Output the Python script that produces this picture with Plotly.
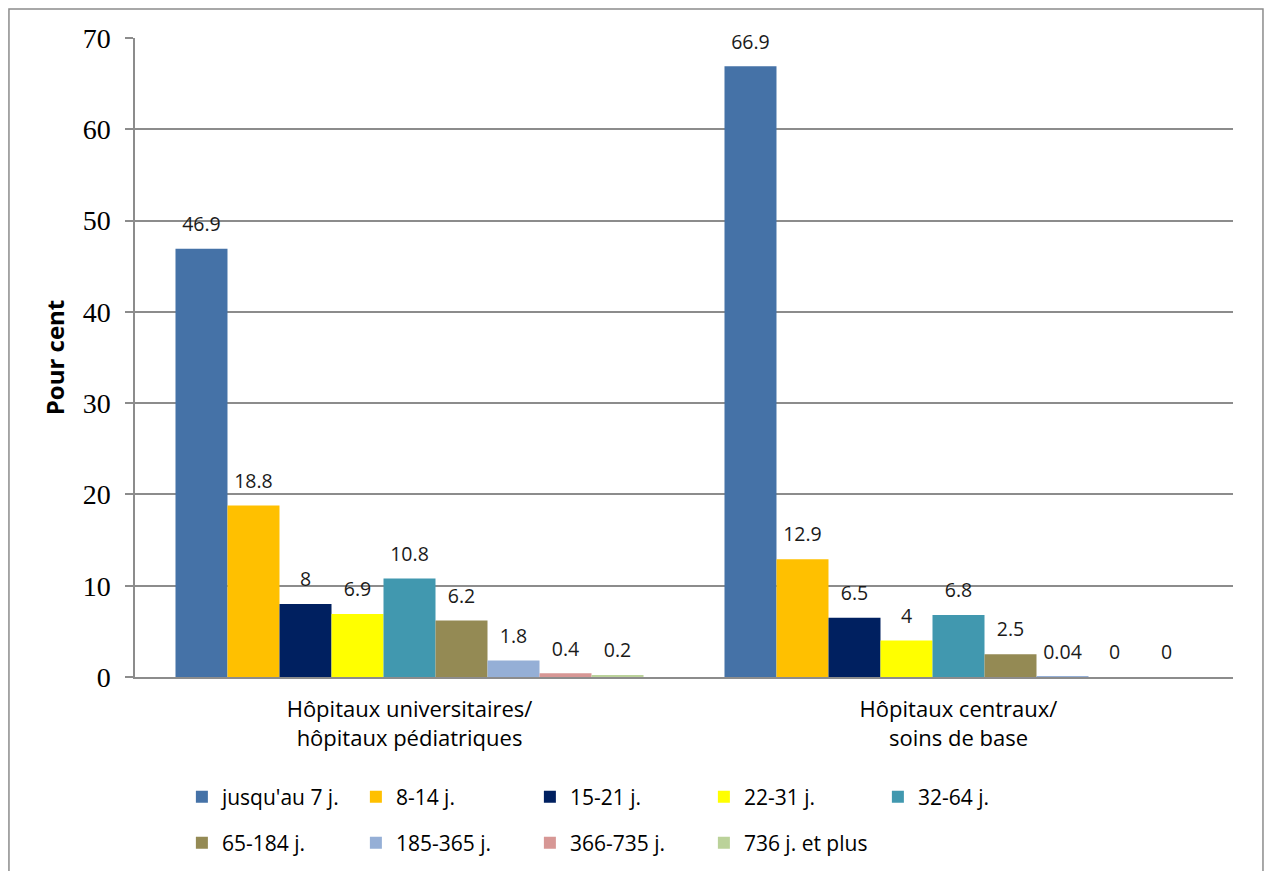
import plotly.graph_objects as go

categories = ["Hôpitaux universitaires/<br>hôpitaux pédiatriques", "Hôpitaux centraux/<br>soins de base"]
series_names = ["jusqu'au 7 j.", "8-14 j.", "15-21 j.", "22-31 j.", "32-64 j.",
                "65-184 j.", "185-365 j.", "366-735 j.", "736 j. et plus"]
group1_values = [46.9, 18.8, 8, 6.9, 10.8, 6.2, 1.8, 0.4, 0.2]
group2_values = [66.9, 12.9, 6.5, 4, 6.8, 2.5, 0.04, 0, 0]
colors = ["#4572A7", "#FFC000", "#002060", "#FFFF00", "#4198AF",
          "#948A54", "#95AFD6", "#D79795", "#BBD29A"]
y_ticks = [0, 10, 20, 30, 40, 50, 60, 70]

def fmt(v):
    return ("%g" % v)

fig = go.Figure()
for i, name in enumerate(series_names):
    vals = [group1_values[i], group2_values[i]]
    fig.add_trace(go.Bar(
        x=categories, y=vals, name=name,
        marker=dict(color=colors[i], line=dict(width=0)),
        legend="legend" if i < 5 else "legend2",
        hoverinfo="skip",
    ))
for i, name in enumerate(series_names):
    vals = [group1_values[i], group2_values[i]]
    fig.add_trace(go.Scatter(
        x=categories, y=vals, mode="markers+text",
        marker=dict(size=19, opacity=0),
        text=[fmt(v) for v in vals], textposition="top center",
        textfont=dict(family="Open Sans", size=19.5, color="#1a1a1a"),
        showlegend=False, hoverinfo="skip", cliponaxis=False,
    ))

fig.update_layout(
    width=1265, height=871,
    margin=dict(l=135, r=32, t=38, b=194, autoexpand=False),
    paper_bgcolor="white", plot_bgcolor="white",
    barmode="group", bargap=0.1475, bargroupgap=0,
    scattermode="group", scattergap=0.1475,
    font=dict(family="Open Sans", color="#000000"),
    legend=dict(orientation="h", x=0.0427, xanchor="left", y=-0.188, yanchor="middle",
                entrywidth=129, font=dict(family="Open Sans", size=21, color="#000"),
                itemclick=False, itemdoubleclick=False, tracegroupgap=0),
    legend2=dict(orientation="h", x=0.0427, xanchor="left", y=-0.26, yanchor="middle",
                 entrywidth=129, font=dict(family="Open Sans", size=21, color="#000"),
                 itemclick=False, itemdoubleclick=False, tracegroupgap=0),
    shapes=[dict(type="rect", xref="paper", yref="paper",
                 x0=-0.1148, x1=1.0273, y0=-0.33, y1=1.0454,
                 line=dict(color="#8c8c8c", width=1.5), layer="below")],
)
fig.update_xaxes(
    showline=True, linecolor="#8c8c8c", linewidth=1.5,
    ticks="", showgrid=False,
    tickfont=dict(family="Open Sans", size=22, color="#000"),
    ticklabelstandoff=12,
)
fig.update_yaxes(
    range=[0, 70], tickvals=y_ticks,
    showline=True, linecolor="#8c8c8c", linewidth=1.5,
    showgrid=True, gridcolor="#8c8c8c", gridwidth=1.5,
    ticks="outside", ticklen=8, tickcolor="#8c8c8c", tickwidth=1.5,
    tickfont=dict(family="Liberation Serif", size=28, color="#000"),
    ticklabelstandoff=9,
    zeroline=False,
    title=dict(text="<b>Pour cent</b>", font=dict(family="Open Sans", size=24, color="#000"), standoff=11),
)

fig.write_html("out.html")
